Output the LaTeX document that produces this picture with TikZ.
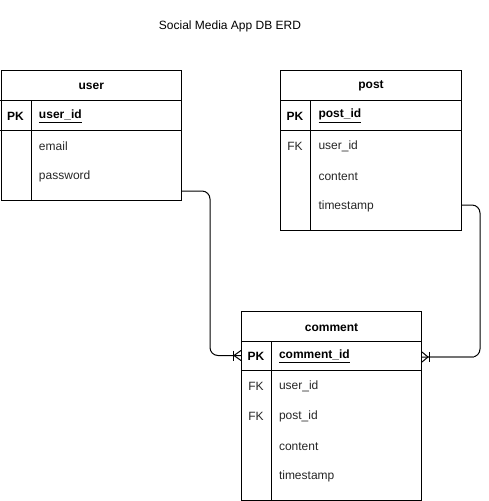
\documentclass[tikz,border=0pt]{standalone}
\usepackage{fontspec}
\setmainfont{Liberation Sans}
\usetikzlibrary{calc}
\begin{document}
\begin{tikzpicture}[x=0.75pt,y=-0.75pt,
  font=\fontsize{9}{11}\selectfont,
  line width=0.75pt,
  tbox/.style={draw, inner sep=0pt, anchor=north west},
  txt/.style={inner sep=0pt, yshift=-0.9pt},
  hdr/.style={txt, font=\fontsize{9}{11}\selectfont\bfseries},
  pkey/.style={txt, font=\fontsize{9}{11}\selectfont\bfseries},
  fkey/.style={txt, text=black!85},
  fld/.style={txt, anchor=west, text=black!85},
  pfld/.style={txt, anchor=west, font=\fontsize{9}{11}\selectfont\bfseries},
  rel/.style={draw, rounded corners=6pt},
  foot/.style={draw}
]
\useasboundingbox (0,0) rectangle (489,501);

\node[txt] (title) at (230,25) {Social Media App DB ERD};

% ---------- user ----------
\node[tbox, minimum width=135.4pt, minimum height=97.5pt] (user) at (0.5,70) {};
\draw ($(user.north west)+(0,30)$) -- ($(user.north east)+(0,30)$);
\draw ($(user.north west)+(0,60)$) -- ($(user.north east)+(0,60)$);
\draw ($(user.north west)+(30.5,30)$) -- ($(user.south west)+(30.5,0)$);
\node[hdr] (userH) at ($(user.north)+(0,15)$) {user};
\node[pkey] (userK1) at ($(user.north west)+(15,45)$) {PK};
\node[pfld] (userF1) at ($(user.north west)+(38,45)$) {\underline{user\_id}};
\node[fld] (userF2) at ($(user.north west)+(38,75)$) {email};
\node[fld] (userF3) at ($(user.north west)+(38,105)$) {password};

% ---------- post ----------
\node[tbox, minimum width=135.75pt, minimum height=120pt] (post) at (280,70) {};
\draw ($(post.north west)+(0,30)$) -- ($(post.north east)+(0,30)$);
\draw ($(post.north west)+(0,60)$) -- ($(post.north east)+(0,60)$);
\draw ($(post.north west)+(30.5,30)$) -- ($(post.south west)+(30.5,0)$);
\node[hdr] (postH) at ($(post.north)+(0,15)$) {post};
\node[pkey] (postK1) at ($(post.north west)+(15,45)$) {PK};
\node[pfld] (postF1) at ($(post.north west)+(38,45)$) {\underline{post\_id}};
\node[fkey] (postK2) at ($(post.north west)+(15,75)$) {FK};
\node[fld] (postF2) at ($(post.north west)+(38,75)$) {user\_id};
\node[fld] (postF3) at ($(post.north west)+(38,105)$) {content};
\node[fld] (postF4) at ($(post.north west)+(38,135)$) {timestamp};

% ---------- comment ----------
\node[tbox, minimum width=135pt, minimum height=141.75pt] (comment) at (241,311) {};
\draw ($(comment.north west)+(0,30)$) -- ($(comment.north east)+(0,30)$);
\draw ($(comment.north west)+(0,59.5)$) -- ($(comment.north east)+(0,59.5)$);
\draw ($(comment.north west)+(30,30)$) -- ($(comment.south west)+(30,0)$);
\node[hdr] (commentH) at ($(comment.north)+(0,15)$) {comment};
\node[pkey] (commentK1) at ($(comment.north west)+(15,44.5)$) {PK};
\node[pfld] (commentF1) at ($(comment.north west)+(37.5,44.5)$) {\underline{comment\_id}};
\node[fkey] (commentK2) at ($(comment.north west)+(15,74)$) {FK};
\node[fld] (commentF2) at ($(comment.north west)+(37.5,74)$) {user\_id};
\node[fkey] (commentK3) at ($(comment.north west)+(15,104)$) {FK};
\node[fld] (commentF3) at ($(comment.north west)+(37.5,104)$) {post\_id};
\node[fld] (commentF4) at ($(comment.north west)+(37.5,134)$) {content};
\node[fld] (commentF5) at ($(comment.north west)+(37.5,164)$) {timestamp};

% ---------- connectors ----------
\coordinate (uOut) at (user.east |- 0,191);
\coordinate (cInL) at (comment.west |- 0,355.5);
\coordinate (pOut) at (post.east |- 0,205);
\coordinate (cInR) at (comment.east |- 0,357);

\draw[rel] (uOut) -- (210,191) -- (210,355.5) -- (cInL);
\draw[foot] ($(cInL)+(-8,-5)$) -- ($(cInL)+(-8,5)$);
\draw[foot] ($(cInL)+(0,-5)$) -- ($(cInL)+(-7,0)$) -- ($(cInL)+(0,5)$);

\draw[rel] (pOut) -- (480,205) -- (480,357) -- (cInR);
\draw[black!55, line width=1.3pt] ($(cInR)+(6,0)$) -- (474,357);
\draw[foot] ($(cInR)+(7,-5)$) -- ($(cInR)+(7,5)$);
\draw[foot] ($(cInR)+(0,-5)$) -- ($(cInR)+(6,0)$) -- ($(cInR)+(0,5)$);
\end{tikzpicture}
\end{document}
